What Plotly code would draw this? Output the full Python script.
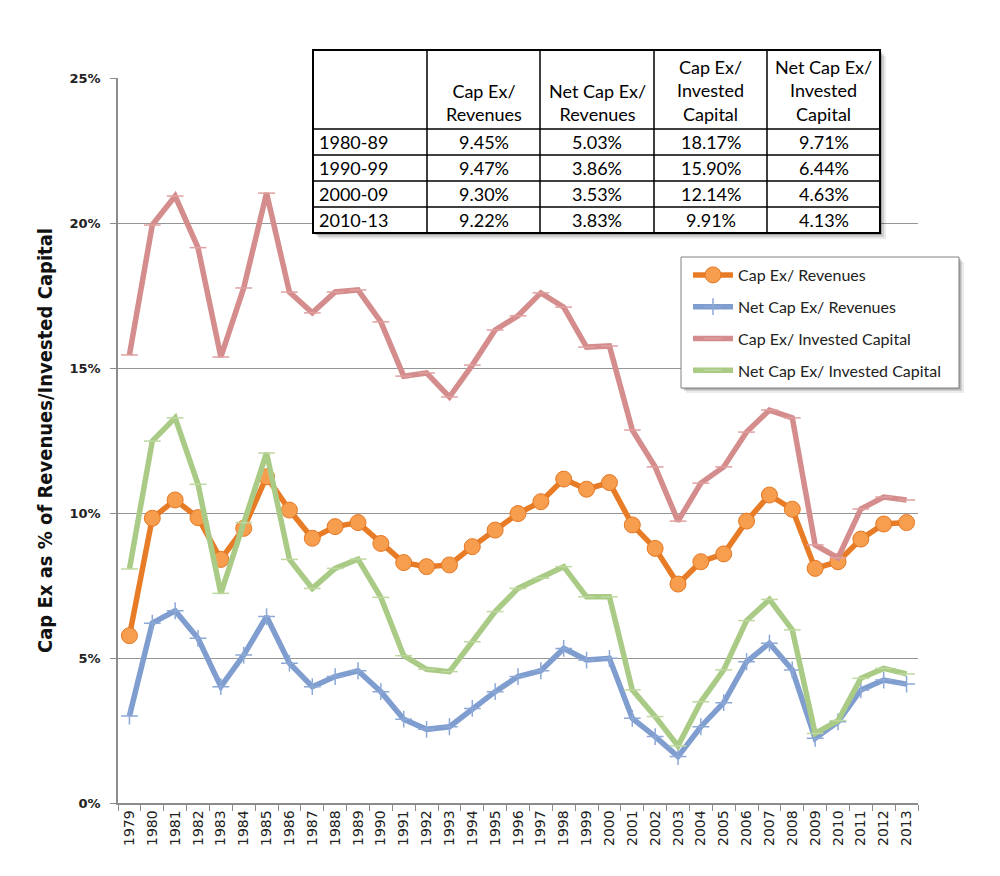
import plotly.graph_objects as go

# ---- data ----
years = [str(y) for y in range(1979, 2014)]

capex_rev = [5.77, 9.82, 10.45, 9.84, 8.40, 9.47, 11.25, 10.10, 9.13, 9.53,
             9.67, 8.95, 8.29, 8.15, 8.21, 8.84, 9.41, 9.98, 10.39, 11.17,
             10.82, 11.05, 9.59, 8.78, 7.55, 8.32, 8.59, 9.72, 10.62, 10.13,
             8.09, 8.32, 9.10, 9.62, 9.67]

net_capex_rev = [3.00, 6.20, 6.63, 5.68, 4.01, 5.10, 6.43, 4.82, 4.01, 4.36,
                 4.56, 3.84, 2.89, 2.54, 2.63, 3.26, 3.84, 4.36, 4.56, 5.33,
                 4.93, 4.99, 2.92, 2.29, 1.60, 2.63, 3.46, 4.87, 5.51, 4.59,
                 2.23, 2.80, 3.90, 4.24, 4.10]

capex_ic = [15.45, 19.93, 20.93, 19.15, 15.38, 17.76, 21.03, 17.62, 16.90, 17.62,
            17.69, 16.59, 14.72, 14.83, 14.00, 15.10, 16.31, 16.80, 17.59, 17.10,
            15.72, 15.76, 12.86, 11.59, 9.72, 11.03, 11.59, 12.79, 13.55, 13.28,
            8.90, 8.45, 10.14, 10.55, 10.45]

net_capex_ic = [8.07, 12.48, 13.28, 10.99, 7.23, 9.67, 12.07, 8.40, 7.40, 8.09,
                8.41, 7.09, 5.08, 4.61, 4.53, 5.56, 6.60, 7.40, 7.75, 8.15,
                7.11, 7.11, 3.90, 2.98, 1.97, 3.49, 4.59, 6.29, 7.02, 5.97,
                2.40, 2.84, 4.30, 4.64, 4.45]

y_ticks = [0, 5, 10, 15, 20, 25]
y_tick_labels = ["0%", "5%", "10%", "15%", "20%", "25%"]

table_header = ["", "Cap Ex/<br>Revenues", "Net Cap Ex/<br>Revenues",
                "Cap Ex/<br>Invested<br>Capital", "Net Cap Ex/<br>Invested<br>Capital"]
table_periods = ["1980-89", "1990-99", "2000-09", "2010-13"]
table_capex_rev = ["9.45%", "9.47%", "9.30%", "9.22%"]
table_net_capex_rev = ["5.03%", "3.86%", "3.53%", "3.83%"]
table_capex_ic = ["18.17%", "15.90%", "12.14%", "9.91%"]
table_net_capex_ic = ["9.71%", "6.44%", "4.63%", "4.13%"]

# ---- page geometry (screen pixels; the page body adds an 8px offset) ----
OFF = 8
W, H = 990, 866
PL, PR, PT, PB = 118 - OFF, 918 - OFF, 78 - OFF, 803 - OFF


def px(x):
    return (x - OFF - PL) / (PR - PL)


def py(y):
    return (PB - (y - OFF)) / (PB - PT)


fig = go.Figure()

series = [
    ("Cap Ex/ Revenues", capex_rev, "rgb(232,124,38)",
     dict(symbol="circle", size=16, color="rgb(247,158,78)",
          line=dict(color="rgb(228,120,36)", width=1))),
    ("Net Cap Ex/ Revenues", net_capex_rev, "rgb(127,157,207)",
     dict(symbol="cross-thin", size=12,
          line=dict(color="rgb(140,168,214)", width=1.5))),
    ("Cap Ex/ Invested Capital", capex_ic, "rgb(212,140,140)",
     dict(symbol="line-ew", size=12,
          line=dict(color="rgb(224,160,160)", width=1.5))),
    ("Net Cap Ex/ Invested Capital", net_capex_ic, "rgb(170,203,134)",
     dict(symbol="line-ew", size=12,
          line=dict(color="rgb(190,216,160)", width=1.5))),
]

for i, (name, vals, col, mk) in enumerate(series):
    fig.add_trace(go.Scatter(
        x=years, y=vals, name=name, mode="lines+markers",
        line=dict(color=col, width=5.5),
        marker=mk, legendgroup=f"g{i}",
    ))

shapes = []
annotations = []

# ---- summary table ----
cols = [313, 427, 540, 654, 767, 880]
rows = [50, 129, 155, 181, 207, 233]

# drop shadow
for k, op in [(6, 0.08), (4, 0.12), (2, 0.2)]:
    shapes.append(dict(type="rect", xref="paper", yref="paper",
                       x0=px(cols[0] + k), x1=px(cols[-1] + k),
                       y0=py(rows[0] + k), y1=py(rows[-1] + k),
                       fillcolor=f"rgba(0,0,0,{op})", line=dict(width=0),
                       layer="above"))
shapes.append(dict(type="rect", xref="paper", yref="paper",
                   x0=px(cols[0]), x1=px(cols[-1]), y0=py(rows[0]), y1=py(rows[-1]),
                   fillcolor="white", line=dict(color="black", width=2),
                   layer="above"))
for c in cols[1:-1]:
    shapes.append(dict(type="line", xref="paper", yref="paper",
                       x0=px(c), x1=px(c), y0=py(rows[0]), y1=py(rows[-1]),
                       line=dict(color="black", width=1.5), layer="above"))
for r in rows[1:-1]:
    shapes.append(dict(type="line", xref="paper", yref="paper",
                       x0=px(cols[0]), x1=px(cols[-1]), y0=py(r), y1=py(r),
                       line=dict(color="black", width=1.5), layer="above"))

tfont = dict(family="Lato, 'Open Sans', sans-serif", size=18, color="black")
for j, txt in enumerate(table_header):
    if not txt:
        continue
    annotations.append(dict(
        xref="paper", yref="paper", x=px((cols[j] + cols[j + 1]) / 2),
        y=py(rows[1] - 2), text=txt, showarrow=False, xanchor="center",
        yanchor="bottom", align="center", font=tfont))

columns = [table_periods, table_capex_rev, table_net_capex_rev,
           table_capex_ic, table_net_capex_ic]
for j, col_vals in enumerate(columns):
    for i, txt in enumerate(col_vals):
        yc = py((rows[i + 1] + rows[i + 2]) / 2)
        if j == 0:
            annotations.append(dict(xref="paper", yref="paper", x=px(cols[0] + 4),
                                    y=yc, text=txt, showarrow=False,
                                    xanchor="left", yanchor="middle", font=tfont))
        else:
            annotations.append(dict(xref="paper", yref="paper",
                                    x=px((cols[j] + cols[j + 1]) / 2),
                                    y=yc, text=txt, showarrow=False,
                                    xanchor="center", yanchor="middle", font=tfont))

# legend box and its shadow
LEG_L, LEG_R, LEG_T, LEG_B = 681, 959, 257, 388
for k, op in [(5, 0.08), (3, 0.12), (1.5, 0.2)]:
    shapes.append(dict(type="rect", xref="paper", yref="paper",
                       x0=px(LEG_L + k), x1=px(LEG_R + k),
                       y0=py(LEG_T + k), y1=py(LEG_B + k),
                       fillcolor=f"rgba(0,0,0,{op})", line=dict(width=0),
                       layer="above"))
shapes.append(dict(type="rect", xref="paper", yref="paper",
                   x0=px(LEG_L), x1=px(LEG_R), y0=py(LEG_T), y1=py(LEG_B),
                   fillcolor="white", line=dict(color="rgb(130,130,130)", width=1),
                   layer="above"))

fig.update_layout(
    width=W, height=H,
    margin=dict(l=PL, r=W - PR, t=PT, b=H - PB),
    paper_bgcolor="white", plot_bgcolor="white",
    showlegend=True,
    legend=dict(
        x=px(LEG_L + 7), y=py(LEG_T + 1), xanchor="left", yanchor="top",
        bgcolor="rgba(0,0,0,0)", borderwidth=0,
        font=dict(family="Lato, 'Open Sans', sans-serif", size=16, color="#222"),
        tracegroupgap=8, itemwidth=40,
    ),
    shapes=shapes,
    annotations=annotations,
    xaxis=dict(
        type="category", range=[-0.5, len(years) - 0.5],
        tickangle=-90, tickson="boundaries",
        ticks="outside", ticklen=6, tickcolor="rgb(140,140,140)",
        showline=True, linecolor="rgb(140,140,140)", linewidth=1.5,
        showgrid=False, zeroline=False,
        tickfont=dict(family="DejaVu Sans", size=14, color="#222"),
    ),
    yaxis=dict(
        range=[0, 25], tickmode="array", tickvals=y_ticks, ticktext=y_tick_labels,
        ticks="outside", ticklen=6, tickcolor="rgb(140,140,140)",
        ticklabelstandoff=7,
        showline=True, linecolor="rgb(140,140,140)", linewidth=1.5,
        showgrid=True, gridcolor="rgb(150,150,150)", gridwidth=1,
        zeroline=False,
        tickfont=dict(family="DejaVu Sans", size=13, color="#222", weight="bold"),
        title=dict(text="Cap Ex as % of Revenues/Invested Capital",
                   font=dict(family="DejaVu Sans Condensed, Roboto, sans-serif",
                             size=20, color="#111", weight="bold"),
                   standoff=12),
    ),
)

fig.write_html("out.html")
